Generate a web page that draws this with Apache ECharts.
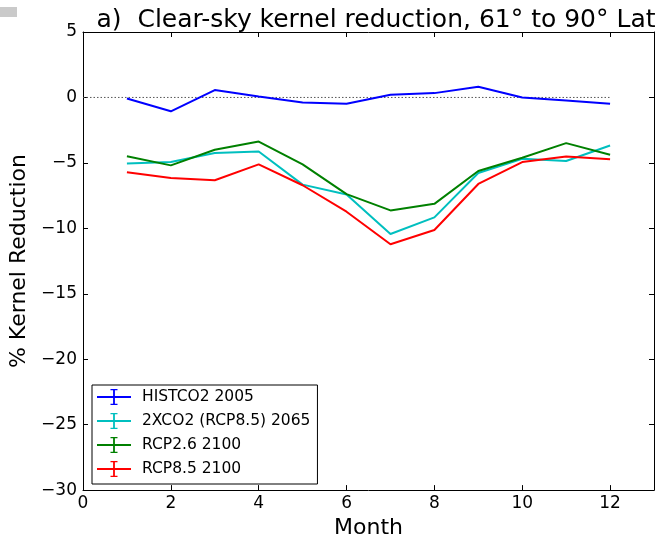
<!DOCTYPE html>
<html>
<head>
<meta charset="utf-8">
<script src="https://cdn.jsdelivr.net/npm/echarts@6/dist/echarts.min.js"></script>
<style>
  html, body { margin: 0; padding: 0; background: #ffffff; }
  #chart { width: 657px; height: 544px; }
</style>
</head>
<body>
<div id="chart"></div>
<script>
// Monthly clear-sky kernel reduction (%), 61°N to 90°N
const months = [1, 2, 3, 4, 5, 6, 7, 8, 9, 10, 11, 12];
const histco2_2005 = [-0.08, -1.06, 0.56, 0.08, -0.38, -0.48, 0.2, 0.33, 0.81, 0.0, -0.23, -0.48];
const xco2_2065   = [-5.04, -4.94, -4.25, -4.13, -6.66, -7.42, -10.43, -9.16, -5.77, -4.68, -4.86, -3.67];
const rcp26_2100  = [-4.5, -5.19, -4.0, -3.37, -5.11, -7.39, -8.63, -8.13, -5.62, -4.61, -3.49, -4.38];
const rcp85_2100  = [-5.72, -6.15, -6.33, -5.11, -6.71, -8.73, -11.22, -10.13, -6.61, -4.94, -4.51, -4.73];
const seriesNames = ['HISTCO2 2005', '2XCO2 (RCP8.5) 2065', 'RCP2.6 2100', 'RCP8.5 2100'];
const yTicks = [5, 0, -5, -10, -15, -20, -25, -30];
const xTicks = [0, 2, 4, 6, 8, 10, 12];

const FONT = 'DejaVu Sans';
const colors = ['#0000ff', '#00bfbf', '#008000', '#ff0000'];
const values = [histco2_2005, xco2_2065, rcp26_2100, rcp85_2100];

// error-bar style legend glyph: horizontal stroke, vertical bar with caps
const errIcon = 'path://M0,9.1h34v1.8h-34z M16.1,2h1.8v16h-1.8z M13.5,2h7v1.3h-7z M13.5,16.7h7v1.3h-7z';

const chart = echarts.init(document.getElementById('chart'), null, { renderer: 'canvas' });

const lineSeries = values.map((vals, i) => ({
  name: seriesNames[i],
  type: 'line',
  xAxisIndex: 0,
  yAxisIndex: 0,
  data: months.map((m, j) => [m, vals[j]]),
  symbol: 'none',
  lineStyle: { color: colors[i], width: 2 },
  itemStyle: { color: colors[i] },
  z: 3 + i
}));

// dotted zero reference line
lineSeries.unshift({
  name: 'zero',
  type: 'line',
  data: [[0, 0], [12, 0]],
  symbol: 'none',
  silent: true,
  lineStyle: { color: '#555555', width: 1, type: [1.5, 2] },
  z: 2
});

const baseAxisText = { fontFamily: FONT, fontSize: 17, color: '#000' };

chart.setOption({
  animation: false,
  backgroundColor: '#ffffff',
  title: {
    text: 'a)  Clear-sky kernel reduction, 61° to 90° Lat',
    left: 371,
    textAlign: 'center',
    top: 3,
    textStyle: { fontFamily: FONT, fontSize: 25, fontWeight: 'normal', color: '#000' }
  },
  legend: {
    data: seriesNames.map((n, i) => ({ name: n, icon: errIcon, itemStyle: { color: colors[i] } })),
    orient: 'vertical',
    left: 92,
    top: 385,
    padding: [4, 7, 7, 5],
    itemWidth: 34,
    itemHeight: 16,
    itemGap: 8,
    backgroundColor: '#ffffff',
    borderColor: '#000000',
    borderWidth: 1,
    borderRadius: 0,
    textStyle: { fontFamily: FONT, fontSize: 15.5, color: '#000', padding: [0, 0, 0, 6] },
    selectedMode: false
  },
  grid: { left: 83, top: 32, right: 1, bottom: 52, containLabel: false },
  xAxis: [
    {
      type: 'value', min: 0, max: 13, interval: 2,
      name: 'Month', nameLocation: 'middle', nameGap: 25,
      nameTextStyle: { fontFamily: FONT, fontSize: 22, color: '#000' },
      axisLine: { show: true, onZero: false, lineStyle: { color: '#000', width: 1 } },
      axisTick: { show: true, inside: true, length: 5, lineStyle: { color: '#000' } },
      axisLabel: Object.assign({ margin: 5, formatter: v => (xTicks.indexOf(v) >= 0 ? String(v) : '') }, baseAxisText),
      splitLine: { show: false }
    },
    {
      type: 'value', min: 0, max: 13, interval: 2, position: 'top',
      axisLine: { show: true, onZero: false, lineStyle: { color: '#000', width: 1 } },
      axisTick: { show: true, inside: true, length: 5, lineStyle: { color: '#000' } },
      axisLabel: { show: false },
      splitLine: { show: false }
    }
  ],
  yAxis: [
    {
      type: 'value', min: -30, max: 5, interval: 5,
      name: '% Kernel Reduction', nameLocation: 'middle', nameGap: 50,
      nameTextStyle: { fontFamily: FONT, fontSize: 22, color: '#000' },
      axisLine: { show: true, onZero: false, lineStyle: { color: '#000', width: 1 } },
      axisTick: { show: true, inside: true, length: 5, lineStyle: { color: '#000' } },
      axisLabel: Object.assign({ margin: 6, formatter: v => (yTicks.indexOf(v) >= 0 ? String(v).replace('-', '\u2212') : '') }, baseAxisText),
      splitLine: { show: false }
    },
    {
      type: 'value', min: -30, max: 5, interval: 5, position: 'right',
      axisLine: { show: true, onZero: false, lineStyle: { color: '#000', width: 1 } },
      axisTick: { show: true, inside: true, length: 5, lineStyle: { color: '#000' } },
      axisLabel: { show: false },
      splitLine: { show: false }
    }
  ],
  graphic: [
    { type: 'rect', left: 0, top: 7, shape: { width: 17, height: 10 }, style: { fill: '#cacaca' }, silent: true }
  ],
  series: lineSeries
});
</script>
</body>
</html>
